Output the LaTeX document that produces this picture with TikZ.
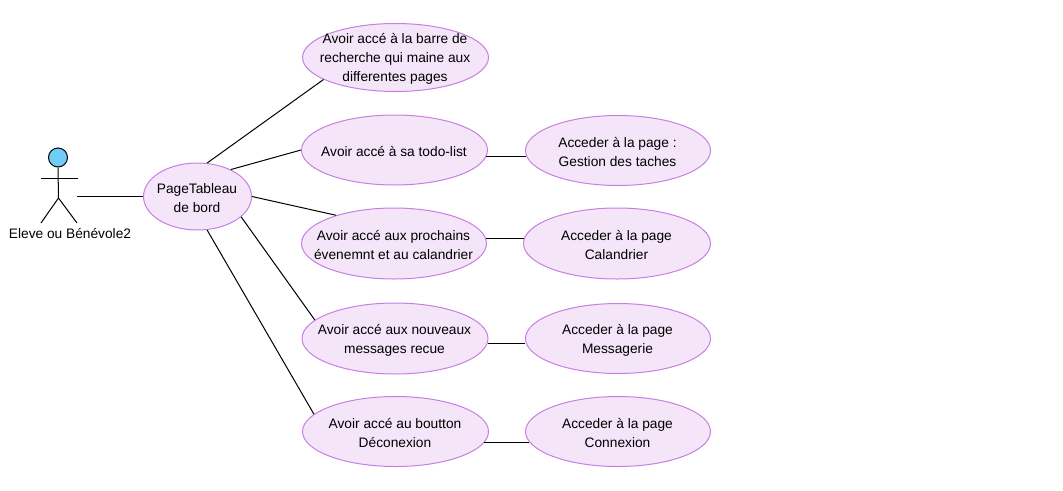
\documentclass[tikz,border=0pt]{standalone}
\usepackage{fontspec}
\setmainfont{Liberation Sans}
\usetikzlibrary{shapes.geometric}
\definecolor{ucedge}{HTML}{C77FE3}
\definecolor{ucfill}{HTML}{F4E6F8}
\definecolor{actorfill}{HTML}{70CDF5}
\tikzset{
 uc/.style={ellipse,draw=ucedge,fill=ucfill,line width=0.75pt,inner sep=0pt},
 ln/.style={draw=black,line width=0.75pt},
 lbl/.style={font=\fontsize{10.3pt}{14.25pt}\selectfont,inner sep=0pt,align=center}
}
\begin{document}
\begin{tikzpicture}[x=0.75pt,y=-0.75pt]
\useasboundingbox (0,0) rectangle (1063,490);
\fill[white] (0,0) rectangle (1063,490);
\newcommand{\usecase}[6]{\node[uc,minimum width=#4*0.75pt,minimum height=#5*0.75pt] (#1) at (#2,#3) {};
 \node[lbl] (#1t) at (#2-0.5,#3+1.5) {#6};}
\usecase{pt}{197.5}{196.5}{108}{67}{PageTableau\\de bord}
\usecase{a}{395.5}{57.5}{186}{68}{Avoir accé à la barre de\\recherche qui maine aux\\differentes pages}
\usecase{b}{394.5}{150}{186}{70}{Avoir accé à sa todo-list}
\usecase{c}{394}{243.5}{185}{71}{Avoir accé aux prochains\\évenemnt et au calandrier}
\usecase{d}{395}{338.5}{186}{71}{Avoir accé aux nouveaux\\messages recue}
\usecase{e}{395.5}{431.5}{186}{70}{Avoir accé au boutton\\Déconexion}
\usecase{f}{618}{150.5}{185}{70}{Acceder à la page :\\Gestion des taches}
\usecase{g}{617}{243.5}{187}{71}{Acceder à la page\\Calandrier}
\usecase{h}{618}{338.5}{185}{70}{Acceder à la page\\Messagerie}
\usecase{i}{618}{431.5}{185}{70}{Acceder à la page\\Connexion}
% actor
\node[circle,draw=black,fill=actorfill,line width=0.75pt,minimum size=14.25pt,inner sep=0pt] (head) at (58,157.5) {};
\coordinate (hip) at (58.5,198);
\coordinate (la) at (40.5,178);
\coordinate (ra) at (77.5,178);
\coordinate (ll) at (41,223);
\coordinate (rl) at (77,223);
\draw[ln] (head.south) -- (hip);
\draw[ln] (la) -- (ra);
\draw[ln] (ll) -- (hip) -- (rl);
\node[lbl] (actorlbl) at (70,234) {Eleve ou Bénévole2};
\coordinate (as) at (77,196.5);
\draw[ln] (as) -- (pt.180);
\draw[ln] (pt.74) -- (a.197);
\draw[ln] (pt.39) -- (b.180);
\draw[ln] (pt.0) -- (c.154);
\draw[ln] (pt.-25) -- (d.167);
\draw[ln] (pt.-74) -- (e.168.5);
\draw[ln] (b.-4) -- (b.-4 -| f.183.7);
\draw[ln] (c.3) -- (c.3 -| g.177.5);
\draw[ln] (d.-3.6) -- (d.-3.6 -| h.182.8);
\draw[ln] (e.-7.8) -- (e.-7.8 -| i.187);
\end{tikzpicture}
\end{document}
